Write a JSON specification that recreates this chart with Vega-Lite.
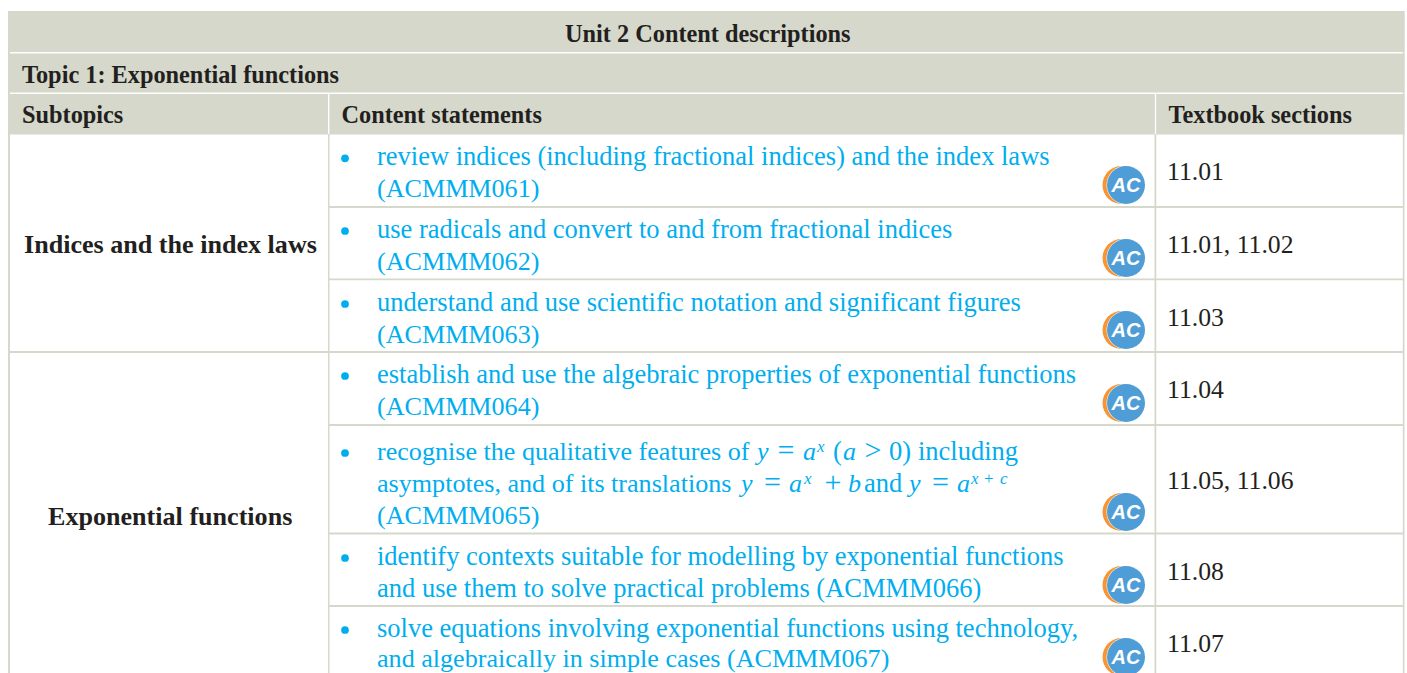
{
"$schema":"https://vega.github.io/schema/vega-lite/v6.json",
"width":1407,"height":673,"autosize":{"type":"none"},"padding":0,"background":"white",
"view":{"stroke":null},
"config":{"text":{"font":"Liberation Serif"}},
"datasets":{
"cells":[
{"x":8,"x2":1404.5,"y":11,"y2":52,"part":"band"},
{"x":8,"x2":1404.5,"y":53.5,"y2":92.5,"part":"band"},
{"x":8,"x2":1404.5,"y":94,"y2":134.5,"part":"band"},
{"x":8,"x2":10,"y":11,"y2":673,"part":"band"},
{"x":1402.8,"x2":1404.5,"y":11,"y2":673,"part":"band"},
{"x":328,"x2":329.5,"y":134,"y2":673,"part":"band"},
{"x":1154.5,"x2":1156.3,"y":134,"y2":673,"part":"band"},
{"x":329,"x2":1404,"y":206,"y2":208,"part":"band"},
{"x":329,"x2":1404,"y":278.5,"y2":280.3,"part":"band"},
{"x":8,"x2":1404,"y":351,"y2":353,"part":"band"},
{"x":329,"x2":1404,"y":424,"y2":426,"part":"band"},
{"x":329,"x2":1404,"y":532.5,"y2":534.5,"part":"band"},
{"x":329,"x2":1404,"y":605,"y2":607,"part":"band"},
{"x":328,"x2":329.4,"y":94,"y2":134,"part":"gap"},
{"x":1154.8,"x2":1156.2,"y":94,"y2":134,"part":"gap"}
],
"badges":[{"x":1126,"y":185},{"x":1126,"y":258},{"x":1126,"y":330},{"x":1126,"y":403},{"x":1126,"y":512},{"x":1126,"y":585},{"x":1126,"y":657}],
"bullets":[{"x":345,"y":158.3},{"x":345,"y":231},{"x":345,"y":304},{"x":345,"y":376},{"x":345,"y":453},{"x":345,"y":558},{"x":345,"y":630}],
"texts":[
{"x":565,"y":42,"text":"Unit 2 Content descriptions","face":"head","tone":"ink"},
{"x":22,"y":83,"text":"Topic 1: Exponential functions","face":"head","tone":"ink"},
{"x":22,"y":123,"text":"Subtopics","face":"head","tone":"ink"},
{"x":341.5,"y":123,"text":"Content statements","face":"head","tone":"ink"},
{"x":1168.5,"y":123,"text":"Textbook sections","face":"head","tone":"ink"},
{"x":24,"y":253,"text":"Indices and the index laws","face":"bold","tone":"ink"},
{"x":48,"y":525,"text":"Exponential functions","face":"bold","tone":"ink"},
{"x":1167,"y":180,"text":"11.01","face":"regular","tone":"ink"},
{"x":1167,"y":253,"text":"11.01, 11.02","face":"regular","tone":"ink"},
{"x":1167,"y":326,"text":"11.03","face":"regular","tone":"ink"},
{"x":1167,"y":398,"text":"11.04","face":"regular","tone":"ink"},
{"x":1167,"y":489,"text":"11.05, 11.06","face":"regular","tone":"ink"},
{"x":1167,"y":580,"text":"11.08","face":"regular","tone":"ink"},
{"x":1167,"y":652,"text":"11.07","face":"regular","tone":"ink"},
{"x":377,"y":164,"text":"review indices (including fractional indices) and the index laws","face":"link","tone":"link"},
{"x":377,"y":196,"text":"(ACMMM061)","face":"tight","tone":"link"},
{"x":377,"y":237,"text":"use radicals and convert to and from fractional indices","face":"link","tone":"link"},
{"x":377,"y":269,"text":"(ACMMM062)","face":"tight","tone":"link"},
{"x":377,"y":310,"text":"understand and use scientific notation and significant figures","face":"link","tone":"link"},
{"x":377,"y":342,"text":"(ACMMM063)","face":"tight","tone":"link"},
{"x":377,"y":382,"text":"establish and use the algebraic properties of exponential functions","face":"link","tone":"link"},
{"x":377,"y":414,"text":"(ACMMM064)","face":"tight","tone":"link"},
{"x":377,"y":459,"text":"recognise the qualitative features of","face":"tight","tone":"link"},
{"x":757,"y":459,"text":"y","face":"italic","tone":"link"},
{"x":777.5,"y":460,"text":"=","face":"op","tone":"link"},
{"x":803,"y":459,"text":"a","face":"italic","tone":"link"},
{"x":817,"y":452,"text":"x","face":"sup","tone":"link"},
{"x":833,"y":459,"text":"(","face":"link","tone":"link"},
{"x":843,"y":459,"text":"a","face":"italic","tone":"link"},
{"x":864.5,"y":460,"text":">","face":"op","tone":"link"},
{"x":889,"y":459,"text":"0)","face":"link","tone":"link"},
{"x":918,"y":459,"text":"including","face":"link","tone":"link"},
{"x":377,"y":491,"text":"asymptotes, and of its translations","face":"tight","tone":"link"},
{"x":741,"y":491,"text":"y","face":"italic","tone":"link"},
{"x":764,"y":492,"text":"=","face":"op","tone":"link"},
{"x":789,"y":491,"text":"a","face":"italic","tone":"link"},
{"x":804,"y":484,"text":"x","face":"sup","tone":"link"},
{"x":824.5,"y":492,"text":"+","face":"op","tone":"link"},
{"x":848,"y":491,"text":"b","face":"italic","tone":"link"},
{"x":864,"y":491,"text":"and","face":"link","tone":"link"},
{"x":909,"y":491,"text":"y","face":"italic","tone":"link"},
{"x":932,"y":492,"text":"=","face":"op","tone":"link"},
{"x":957,"y":491,"text":"a","face":"italic","tone":"link"},
{"x":971,"y":484,"text":"x","face":"sup","tone":"link"},
{"x":984,"y":484,"text":"+","face":"supup","tone":"link"},
{"x":1000,"y":484,"text":"c","face":"sup","tone":"link"},
{"x":377,"y":523,"text":"(ACMMM065)","face":"tight","tone":"link"},
{"x":377,"y":564,"text":"identify contexts suitable for modelling by exponential functions","face":"link","tone":"link"},
{"x":377,"y":596,"text":"and use them to solve practical problems (ACMMM066)","face":"link","tone":"link"},
{"x":377,"y":636,"text":"solve equations involving exponential functions using technology,","face":"link","tone":"link"},
{"x":377,"y":666.4,"text":"and algebraically in simple cases (ACMMM067)","face":"tight","tone":"link"}
]},
"encoding":{
"x":{"field":"x","type":"quantitative","scale":{"domain":[0,1407],"range":[0,1407]},"axis":null},
"y":{"field":"y","type":"quantitative","scale":{"domain":[0,673],"range":[0,673]},"axis":null}
},
"layer":[
{"data":{"name":"cells"},"mark":{"type":"rect"},"encoding":{
"x2":{"field":"x2"},"y2":{"field":"y2"},
"color":{"field":"part","type":"nominal","scale":{"domain":["band","gap","ink","link"],"range":["#d5d8ca","#ffffff","#231f20","#00aeef"]},"legend":null}}},
{"data":{"name":"bullets"},"mark":{"type":"point","filled":true,"shape":"circle","size":60,"color":"#00aeef","opacity":1}},
{"data":{"name":"badges"},"mark":{"type":"point","filled":true,"shape":"circle","size":1444,"color":"#f79433","opacity":1,"xOffset":-4.5}},
{"data":{"name":"badges"},"mark":{"type":"point","filled":true,"shape":"circle","size":1520,"color":"#ffffff","opacity":1}},
{"data":{"name":"badges"},"mark":{"type":"point","filled":true,"shape":"circle","size":1444,"color":"#4f9dd6","opacity":1}},
{"data":{"name":"badges"},"mark":{"type":"text","text":"AC","font":"Liberation Sans","fontWeight":"bold","fontStyle":"italic","fontSize":20,"color":"#ffffff","align":"center","baseline":"middle","yOffset":1}},
{"data":{"name":"texts"},"transform":[{"filter":"datum.face==='head'"}],"mark":{"type":"text","align":"left","baseline":"alphabetic","fontWeight":"bold","fontSize":24.3},"encoding":{"text":{"field":"text"},"color":{"field":"tone","type":"nominal","legend":null}}},
{"data":{"name":"texts"},"transform":[{"filter":"datum.face==='bold'"}],"mark":{"type":"text","align":"left","baseline":"alphabetic","fontWeight":"bold","fontSize":26.1},"encoding":{"text":{"field":"text"},"color":{"field":"tone","type":"nominal","legend":null}}},
{"data":{"name":"texts"},"transform":[{"filter":"datum.face==='regular'"}],"mark":{"type":"text","align":"left","baseline":"alphabetic","fontSize":25.7},"encoding":{"text":{"field":"text"},"color":{"field":"tone","type":"nominal","legend":null}}},
{"data":{"name":"texts"},"transform":[{"filter":"datum.face==='link'"}],"mark":{"type":"text","align":"left","baseline":"alphabetic","fontSize":26.5,"yOffset":0.7},"encoding":{"text":{"field":"text"},"color":{"field":"tone","type":"nominal","legend":null}}},
{"data":{"name":"texts"},"transform":[{"filter":"datum.face==='tight'"}],"mark":{"type":"text","align":"left","baseline":"alphabetic","fontSize":26.1,"yOffset":0.7},"encoding":{"text":{"field":"text"},"color":{"field":"tone","type":"nominal","legend":null}}},
{"data":{"name":"texts"},"transform":[{"filter":"datum.face==='op'"}],"mark":{"type":"text","align":"left","baseline":"alphabetic","fontSize":30},"encoding":{"text":{"field":"text"},"color":{"field":"tone","type":"nominal","legend":null}}},
{"data":{"name":"texts"},"transform":[{"filter":"datum.face==='italic'"}],"mark":{"type":"text","align":"left","baseline":"alphabetic","fontStyle":"italic","fontSize":26,"yOffset":0.7},"encoding":{"text":{"field":"text"},"color":{"field":"tone","type":"nominal","legend":null}}},
{"data":{"name":"texts"},"transform":[{"filter":"datum.face==='sup'"}],"mark":{"type":"text","align":"left","baseline":"alphabetic","fontStyle":"italic","fontSize":17},"encoding":{"text":{"field":"text"},"color":{"field":"tone","type":"nominal","legend":null}}},
{"data":{"name":"texts"},"transform":[{"filter":"datum.face==='supup'"}],"mark":{"type":"text","align":"left","baseline":"alphabetic","fontSize":17},"encoding":{"text":{"field":"text"},"color":{"field":"tone","type":"nominal","legend":null}}}
]
}
